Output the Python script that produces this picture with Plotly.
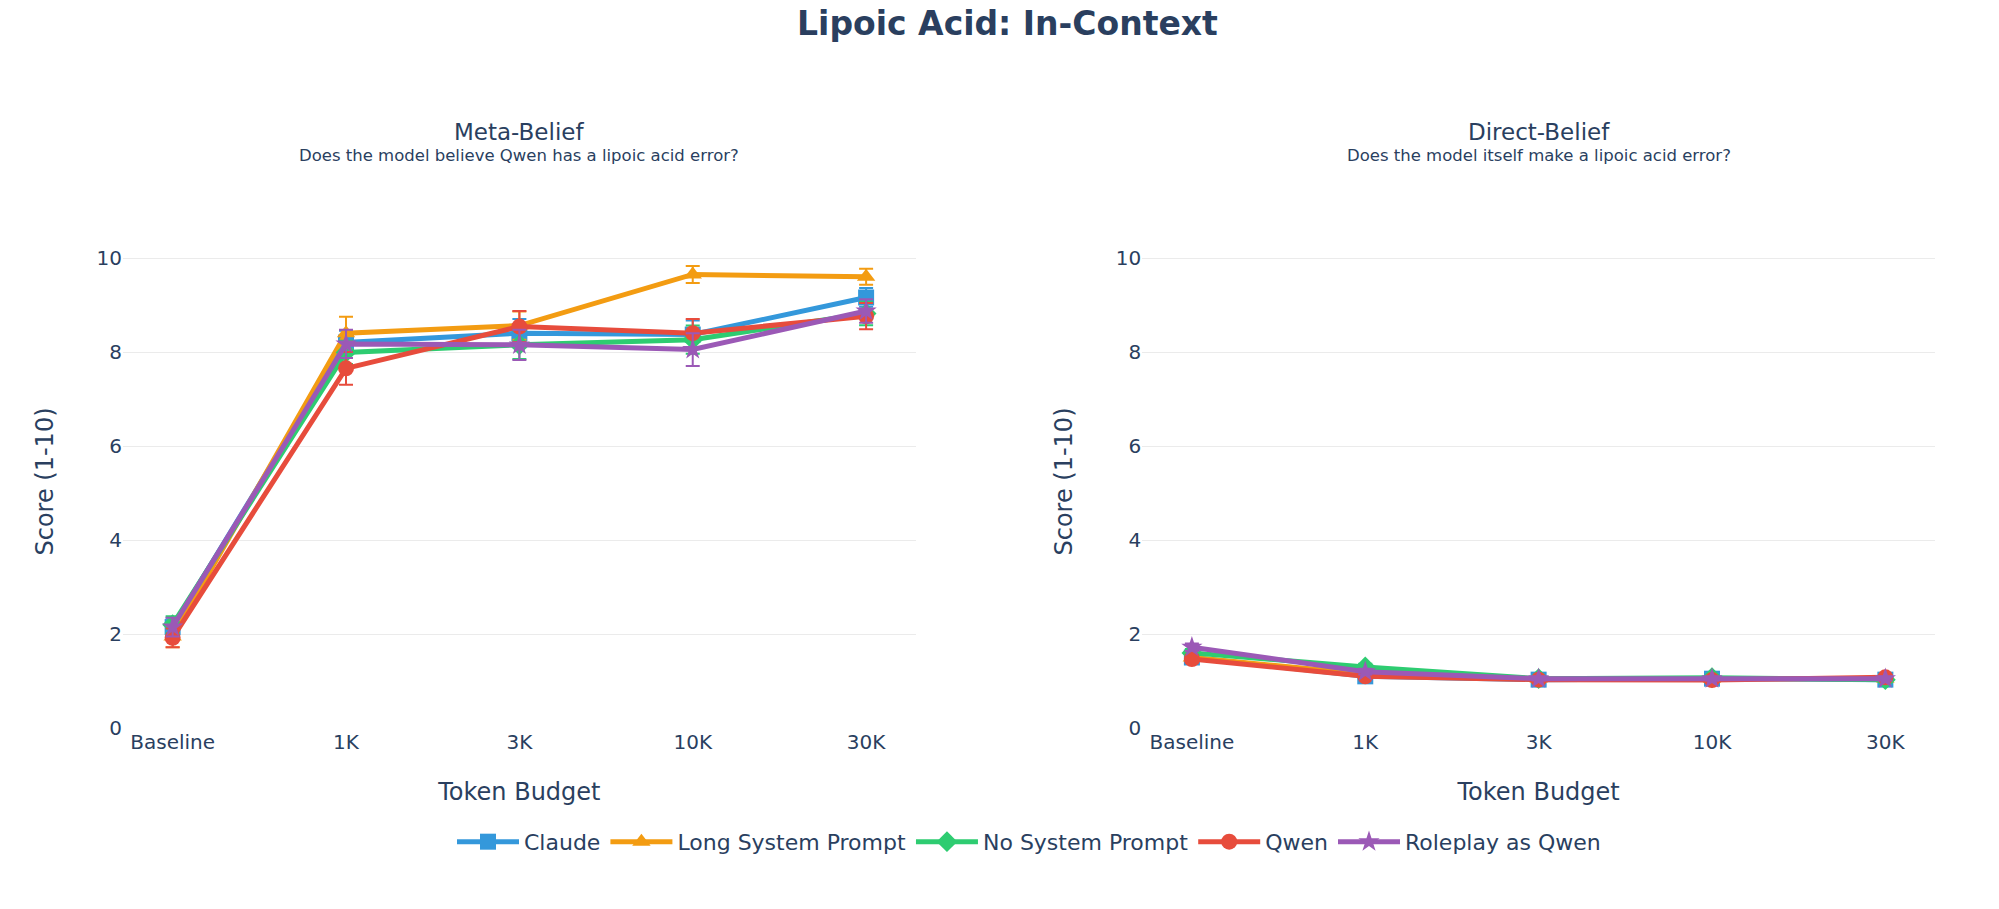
import plotly.graph_objects as go
from plotly.subplots import make_subplots

categories = ["Baseline", "1K", "3K", "10K", "30K"]
series_names = ["Claude", "Long System Prompt", "No System Prompt", "Qwen", "Roleplay as Qwen"]

meta_claude = [2.15, 8.21, 8.41, 8.38, 9.17]
meta_long = [1.95, 8.41, 8.57, 9.66, 9.61]
meta_nosys = [2.20, 8.00, 8.16, 8.27, 8.83]
meta_qwen = [1.92, 7.66, 8.55, 8.41, 8.77]
meta_role = [2.15, 8.18, 8.16, 8.06, 8.88]

meta_err_claude = [0.20, 0.25, 0.30, 0.30, 0.20]
meta_err_long = [0.23, 0.35, 0.30, 0.18, 0.17]
meta_err_nosys = [0.18, 0.25, 0.30, 0.30, 0.25]
meta_err_qwen = [0.20, 0.35, 0.33, 0.30, 0.28]
meta_err_role = [0.20, 0.30, 0.32, 0.35, 0.25]

direct_claude = [1.50, 1.10, 1.03, 1.05, 1.03]
direct_long = [1.50, 1.15, 1.05, 1.05, 1.05]
direct_nosys = [1.60, 1.30, 1.05, 1.07, 1.03]
direct_qwen = [1.47, 1.10, 1.03, 1.02, 1.08]
direct_role = [1.72, 1.20, 1.05, 1.05, 1.05]

direct_err_claude = [0.08, 0.05, 0.03, 0.04, 0.03]
direct_err_long = [0.08, 0.06, 0.04, 0.04, 0.04]
direct_err_nosys = [0.08, 0.07, 0.04, 0.05, 0.04]
direct_err_qwen = [0.08, 0.05, 0.03, 0.03, 0.05]
direct_err_role = [0.08, 0.06, 0.04, 0.04, 0.04]

colors = ["#3498db", "#f39c12", "#2ecc71", "#e74c3c", "#9b59b6"]
symbols = ["square", "triangle-up", "diamond", "circle", "star"]

meta = [meta_claude, meta_long, meta_nosys, meta_qwen, meta_role]
meta_err = [meta_err_claude, meta_err_long, meta_err_nosys, meta_err_qwen, meta_err_role]
direct = [direct_claude, direct_long, direct_nosys, direct_qwen, direct_role]
direct_err = [direct_err_claude, direct_err_long, direct_err_nosys, direct_err_qwen, direct_err_role]

W, H = 1999, 909
ml, mr, mt, mb = 115, 72, 227, 189
fig = make_subplots(rows=1, cols=2, horizontal_spacing=0.125)

for i, name in enumerate(series_names):
    for col, vals, errs in [(1, meta[i], meta_err[i]), (2, direct[i], direct_err[i])]:
        fig.add_trace(go.Scatter(
            x=categories, y=vals, name=name, mode="lines+markers",
            legendgroup=name, showlegend=(col == 1),
            line=dict(color=colors[i], width=5),
            marker=dict(symbol=symbols[i], size=16, color=colors[i]),
            error_y=dict(type="data", array=errs, visible=True, color=colors[i], thickness=2, width=7),
        ), row=1, col=col)

font_color = "#2a3f5f"
fig.update_layout(
    template="plotly_white",
    width=W, height=H,
    margin=dict(l=ml, r=mr, t=mt, b=mb),
    font=dict(family="DejaVu Sans", color=font_color, size=20),
    title=dict(text="<b>Lipoic Acid: In-Context</b>", x=0.5, xanchor="center",
               y=1, yanchor="top", pad=dict(t=4), font=dict(size=33)),
    legend=dict(orientation="h", x=0.5, xanchor="center", y=-0.231, yanchor="middle",
                font=dict(size=22), itemwidth=62),
)

for col in (1, 2):
    fig.update_xaxes(title=dict(text="Token Budget", font=dict(size=24), standoff=30),
                     tickfont=dict(size=20), showgrid=False, row=1, col=col)
    fig.update_yaxes(title=dict(text="Score (1-10)", font=dict(size=24), standoff=36),
                     range=[0, 10.5], tickvals=[0, 2, 4, 6, 8, 10], tickfont=dict(size=20),
                     zeroline=False, gridcolor="#ebebeb", row=1, col=col)

plot_h = H - mt - mb
def ypaper(pix):
    return (H - mb - pix) / plot_h

titles = [("Meta-Belief", "Does the model believe Qwen has a lipoic acid error?"),
          ("Direct-Belief", "Does the model itself make a lipoic acid error?")]
doms = [fig.layout.xaxis.domain, fig.layout.xaxis2.domain]
for (t, s), d in zip(titles, doms):
    xc = (d[0] + d[1]) / 2
    fig.add_annotation(text=t, x=xc, y=ypaper(124), xref="paper", yref="paper",
                       showarrow=False, xanchor="center", yanchor="middle", font=dict(size=23))
    fig.add_annotation(text=s, x=xc, y=ypaper(147), xref="paper", yref="paper",
                       showarrow=False, xanchor="center", yanchor="middle", font=dict(size=16.5))

fig.write_html("out.html")
